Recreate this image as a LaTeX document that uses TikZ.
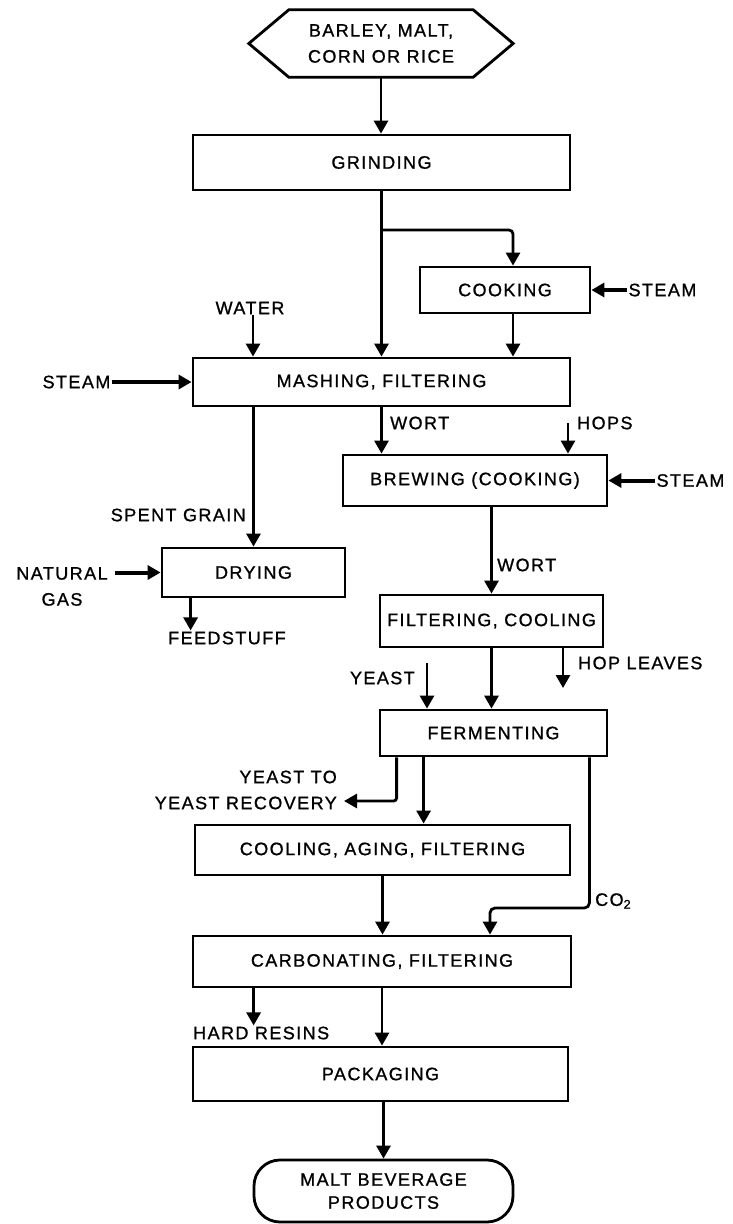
\documentclass[tikz,border=0pt]{standalone}
\usepackage{fontspec}
\setmainfont{Liberation Sans}[LetterSpace=8, FakeBold=1]
\usetikzlibrary{arrows.meta, positioning}

\begin{document}
\begin{tikzpicture}[
  x=1pt, y=-1pt,
  every node/.style={font=\fontsize{18}{26}\selectfont},
  proc/.style={draw, line width=2.8pt, inner sep=0pt},
  term/.style={draw, line width=2.8pt, rounded corners=26pt, inner sep=0pt, align=center, font=\fontsize{18}{23}\selectfont},
  note/.style={inner sep=1pt},
  flow/.style={-{Triangle[width=14pt,length=13pt]}, line width=2.8pt},
  heavy/.style={flow, line width=4pt}
]
\useasboundingbox (0,0) rectangle (733,1224);

% Raw material and grinding
\node[minimum width=264, minimum height=67, inner sep=0pt, align=center] (src) at (381,43.5) {BARLEY, MALT,\\CORN OR RICE};
\draw[line width=2.8pt] (src.west) -- ([xshift=40pt]src.north west) -- ([xshift=-40pt]src.north east) -- (src.east) -- ([xshift=-40pt]src.south east) -- ([xshift=40pt]src.south west) -- cycle;
\node[proc, minimum width=377, minimum height=55] (grind) at (381.5,162.5) {GRINDING};
\draw[flow] (src.south) -- (src.south |- grind.north);

% Cooking side stream
\coordinate (split) at (381.5,230);
\node[proc, minimum width=170, minimum height=46] (cook) at (505,290) {COOKING};
\node[note, right=36pt of cook] (steam2) {STEAM};
\draw[flow, rounded corners=4pt] (split) -| ([xshift=8pt]cook.north);
\draw[heavy] (steam2.west) -- (cook.east);

% Mashing
\node[proc, minimum width=377, minimum height=48] (mash) at (381.5,382) {MASHING, FILTERING};
\node[note] (water) at (250,308) {WATER};
\node[note, left=80pt of mash] (steam1) {STEAM};
\draw[flow] (grind.south) -- (grind.south |- mash.north);
\draw[flow] ([xshift=8pt]cook.south) -- ([xshift=8pt]cook.south |- mash.north);
\draw[flow] ([xshift=3pt]water.south) -- ([xshift=3pt]water.south |- mash.north);
\draw[heavy] (steam1.east) -- (mash.west);

% Brewing
\node[proc, minimum width=264, minimum height=51] (brew) at (475,480.5) {BREWING (COOKING)};
\node[note, anchor=west] (wort1) at (389,423) {WORT};
\node[note, anchor=west] (hops) at (576,423) {HOPS};
\node[note, right=47pt of brew] (steam3) {STEAM};
\draw[flow] (mash.south) -- (mash.south |- brew.north);
\draw[flow] ([xshift=-8pt]hops.west) -- ([xshift=-8pt]hops.west |- brew.north);
\draw[heavy] (steam3.west) -- (brew.east);

% Spent grain and drying
\node[proc, minimum width=183, minimum height=49] (dry) at (253.5,572.5) {DRYING};
\node[note, anchor=east] (spent) at (247,515) {SPENT GRAIN};
\node[note, align=center] (gas) at (62,586.5) {NATURAL\\GAS};
\node[note, anchor=west] (feed) at (167,638) {FEEDSTUFF};
\draw[flow] (dry.north |- mash.south) -- (dry.north);
\draw[heavy] ([xshift=6pt]gas.east |- dry.west) -- (dry.west);
\draw[flow] ([xshift=30pt]dry.south west) -- ([xshift=30pt]dry.south west |- feed.north);

% Wort to filtering, cooling
\node[proc, minimum width=223, minimum height=52] (fc) at (491.5,621) {FILTERING, COOLING};
\node[note, anchor=west] (wort2) at (496,565) {WORT};
\draw[flow] (fc.north |- brew.south) -- (fc.north);

% Fermenting
\node[proc, minimum width=227, minimum height=46] (ferm) at (493.5,733) {FERMENTING};
\node[note, anchor=west] (hopl) at (577,663) {HOP LEAVES};
\node[note, anchor=east] (yeast) at (416,678) {YEAST};
\coordinate (hopout) at (563,688);
\coordinate (yeastin) at (427,663);
\draw[flow] (fc.south) -- (fc.south |- ferm.north);
\draw[flow] (hopout |- fc.south) -- (hopout);
\draw[flow] (yeastin) -- (yeastin |- ferm.north);

% Yeast recovery and aging
\node[note, anchor=east, align=right] (yrec) at (338,790) {YEAST TO\\YEAST RECOVERY};
\node[proc, minimum width=375, minimum height=50] (age) at (382.5,850) {COOLING, AGING, FILTERING};
\draw[flow, rounded corners=3pt] ([xshift=18pt]ferm.south west) |- ([xshift=6pt,yshift=-11pt]yrec.east);
\draw[flow] ([xshift=45pt]ferm.south west) -- ([xshift=45pt]ferm.south west |- age.north);

% CO2 and carbonating
\node[proc, minimum width=378, minimum height=51] (carb) at (382,961.5) {CARBONATING, FILTERING};
\coordinate (co2bend) at (490,908);
\node[note, anchor=west] (co2) at (594,901) {CO\textsubscript{2}};
\draw[flow] (age.south) -- (age.south |- carb.north);
\draw[flow, rounded corners=5pt] ([xshift=-19pt]ferm.south east) |- (co2bend) -- (co2bend |- carb.north);

% Packaging
\node[proc, minimum width=375, minimum height=54] (pack) at (380.5,1074) {PACKAGING};
\node[note, anchor=west] (resin) at (192,1033) {HARD RESINS};
\draw[flow] ([xshift=62pt]carb.south west) -- ([xshift=62pt]carb.south west |- resin.north);
\draw[flow] (carb.south) -- (carb.south |- pack.north);

% Product
\node[term, minimum width=259, minimum height=62] (prod) at (383.5,1191) {MALT BEVERAGE\\PRODUCTS};
\draw[flow] (prod.north |- pack.south) -- (prod.north);

\end{tikzpicture}
\end{document}
